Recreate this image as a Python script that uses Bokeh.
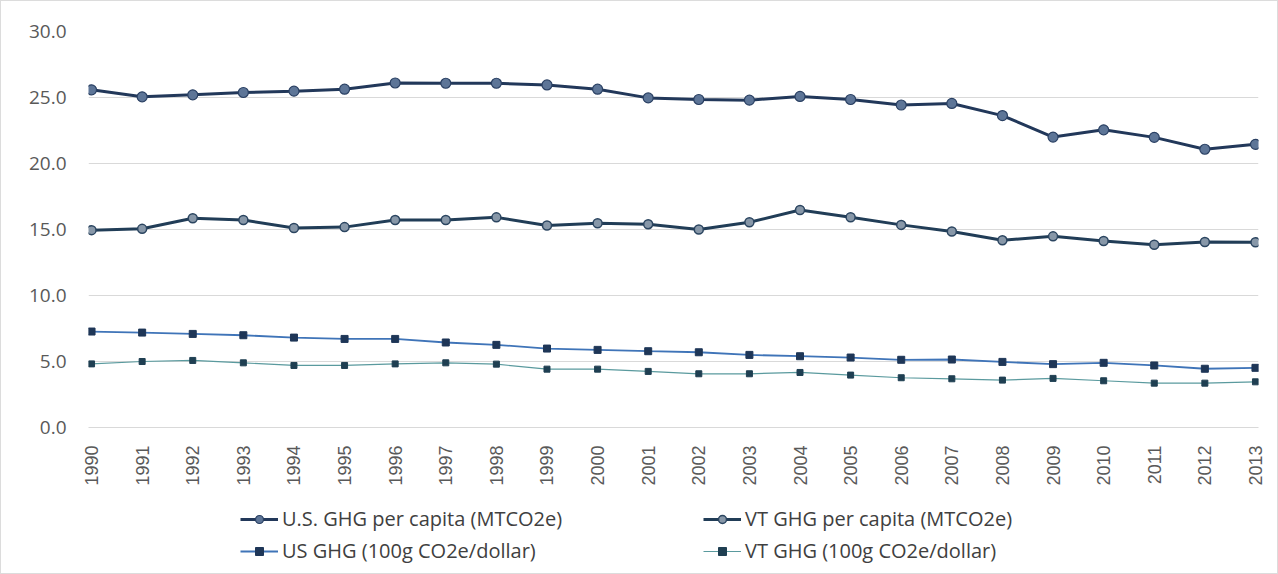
import math
from bokeh.plotting import figure
from bokeh.layouts import column
from bokeh.models import (Range1d, FixedTicker, NumeralTickFormatter, Legend, LegendItem)
from bokeh.embed import file_html
from bokeh.resources import INLINE

years = list(range(1990, 2014))
year_labels = [str(y) for y in years]

us_per_capita = [25.58, 25.05, 25.2, 25.38, 25.48, 25.63, 26.1, 26.08, 26.08, 25.95, 25.63, 24.97,
                 24.85, 24.8, 25.08, 24.85, 24.43, 24.55, 23.63, 22.0, 22.55, 21.98, 21.08, 21.45]
vt_per_capita = [14.95, 15.05, 15.85, 15.72, 15.12, 15.18, 15.72, 15.72, 15.92, 15.3, 15.48, 15.4,
                 15.0, 15.55, 16.48, 15.93, 15.35, 14.85, 14.18, 14.48, 14.13, 13.85, 14.05, 14.03]
us_per_dollar = [7.27, 7.19, 7.09, 6.99, 6.81, 6.71, 6.71, 6.44, 6.26, 5.98, 5.88, 5.78,
                 5.7, 5.5, 5.4, 5.3, 5.13, 5.15, 4.97, 4.8, 4.9, 4.7, 4.45, 4.52]
vt_per_dollar = [4.82, 5.0, 5.08, 4.9, 4.7, 4.7, 4.82, 4.9, 4.8, 4.42, 4.42, 4.25,
                 4.07, 4.07, 4.17, 3.97, 3.77, 3.69, 3.59, 3.72, 3.54, 3.36, 3.36, 3.46]

series_names = ["U.S. GHG per capita (MTCO2e)", "VT GHG per capita (MTCO2e)",
                "US GHG (100g CO2e/dollar)", "VT GHG (100g CO2e/dollar)"]
y_ticks = [0, 5, 10, 15, 20, 25, 30]

styles = [
    dict(line=dict(line_color="#22385a", line_width=3),
         mark=dict(marker="circle", size=10, fill_color="#5d7597", line_color="#2a4063", line_width=1.2)),
    dict(line=dict(line_color="#213d57", line_width=3),
         mark=dict(marker="circle", size=9, fill_color="#8797a8", line_color="#2b4560", line_width=1.5)),
    dict(line=dict(line_color="#3f74b8", line_width=1.8),
         mark=dict(marker="square", size=7, fill_color="#1e3657", line_color="#1e3657")),
    dict(line=dict(line_color="#5a9a9e", line_width=1.2),
         mark=dict(marker="square", size=6, fill_color="#1f3f52", line_color="#1f3f52")),
]
series_values = [us_per_capita, vt_per_capita, us_per_dollar, vt_per_dollar]

p = figure(width=1276, height=487, output_backend="svg", toolbar_location=None,
           x_range=Range1d(1989.94, 2013.06), y_range=Range1d(0, 30),
           min_border_left=87, min_border_right=19, min_border_top=30, min_border_bottom=60)
p.outline_line_color = None
p.background_fill_color = "white"
p.border_fill_color = "white"

p.xgrid.grid_line_color = None
p.ygrid.grid_line_color = "#d9d9d9"
p.ygrid.grid_line_width = 1
p.ygrid.ticker = FixedTicker(ticks=y_ticks)

p.yaxis.ticker = FixedTicker(ticks=y_ticks)
p.yaxis.formatter = NumeralTickFormatter(format="0.0")
p.yaxis.axis_line_color = None
p.yaxis.major_tick_line_color = None
p.yaxis.minor_tick_line_color = None
p.yaxis.major_label_text_font = "Open Sans"
p.yaxis.major_label_text_font_size = "19px"
p.yaxis.major_label_text_color = "#595959"
p.yaxis.major_label_standoff = 16

p.xaxis.ticker = FixedTicker(ticks=years)
p.xaxis.major_label_overrides = {y: s for y, s in zip(years, year_labels)}
p.xaxis.major_label_orientation = math.pi / 2
p.xaxis.axis_line_color = "#d9d9d9"
p.xaxis.major_tick_line_color = None
p.xaxis.minor_tick_line_color = None
p.xaxis.major_label_text_font = "Liberation Sans"
p.xaxis.major_label_text_font_size = "18px"
p.xaxis.major_label_text_color = "#595959"
p.xaxis.major_label_standoff = 12

for i in [3, 2, 1, 0]:
    p.line(years, series_values[i], **styles[i]["line"])
    p.scatter(years, series_values[i], **styles[i]["mark"])

# legend strip below the chart (its frame is aligned with the main frame)
lg = figure(width=1276, height=85, output_backend="svg", toolbar_location=None,
            x_range=Range1d(0, 1), y_range=Range1d(0, 1),
            x_axis_type=None, y_axis_type=None,
            min_border_left=0, min_border_right=0, min_border_top=0, min_border_bottom=0)
lg.outline_line_color = None
lg.xgrid.grid_line_color = None
lg.ygrid.grid_line_color = None
items = []
for i in range(4):
    lr = lg.line([-10, -9], [-10, -9], **styles[i]["line"])
    sr = lg.scatter([-10], [-10], **styles[i]["mark"])
    items.append(LegendItem(label=series_names[i], renderers=[lr, sr]))

def make_legend(its, loc):
    return Legend(items=its, location=loc, orientation="vertical",
                  background_fill_alpha=0, border_line_alpha=0, padding=0, margin=0,
                  spacing=5, glyph_height=20, glyph_width=38, label_height=20,
                  label_standoff=4, label_text_font="Open Sans", label_text_font_size="20px",
                  label_text_color="#404040")

lg.add_layout(make_legend([items[0], items[2]], (152, 9)), "center")
lg.add_layout(make_legend([items[1], items[3]], (615, 9)), "center")

layout = column(p, lg, spacing=0, styles={"border": "1px solid #dcdcdc"})

open("out.html", "w").write(file_html(layout, INLINE))
